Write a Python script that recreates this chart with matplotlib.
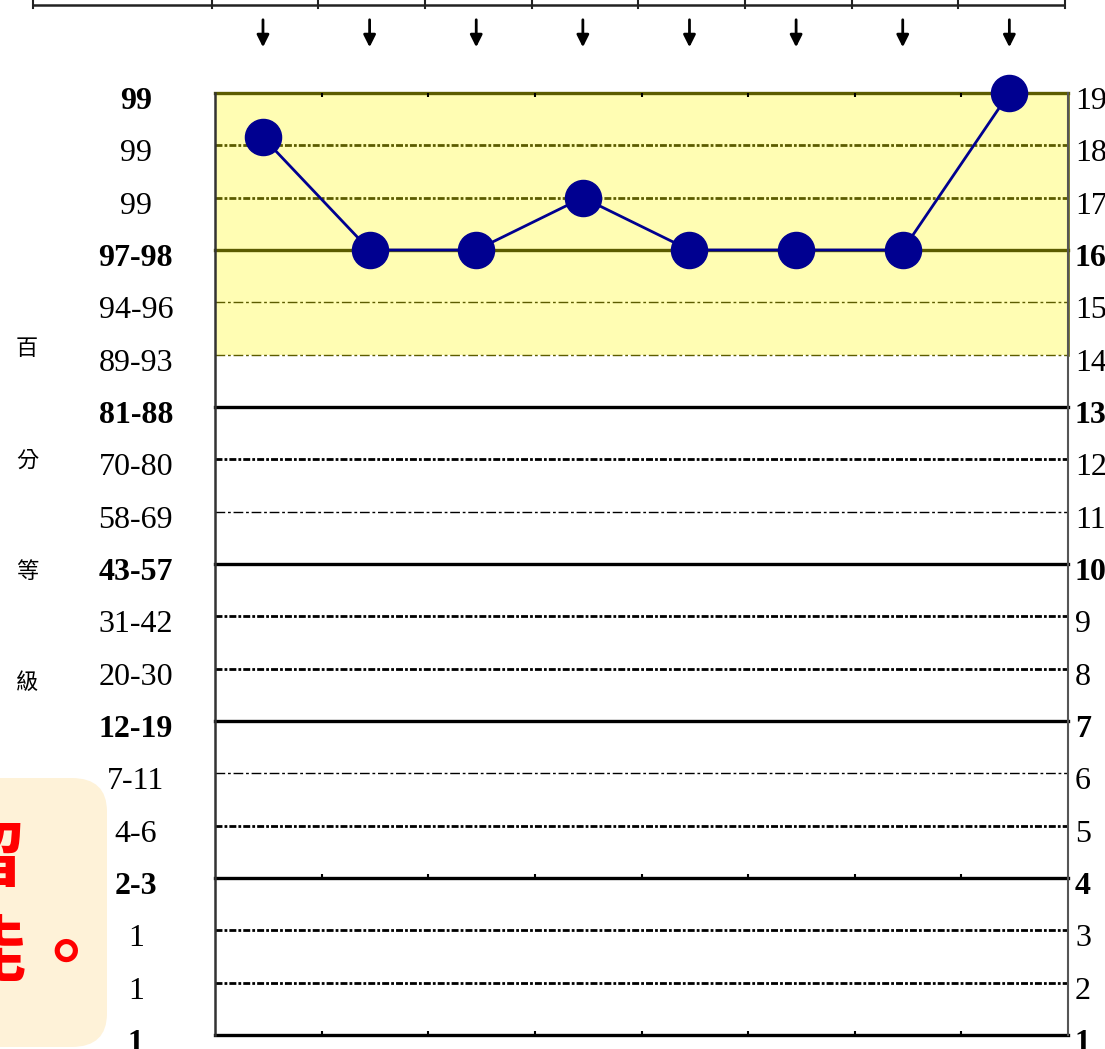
import numpy as np
import matplotlib
matplotlib.use('Agg')
import matplotlib.pyplot as plt
from matplotlib.patches import FancyBboxPatch
from matplotlib.lines import Line2D
from matplotlib.transforms import blended_transform_factory, ScaledTranslation

plt.rcParams['lines.scale_dashes'] = False

# 資料
levels = list(range(1, 20))
pr_labels = ['1', '1', '1', '2-3', '4-6', '7-11', '12-19', '20-30', '31-42', '43-57',
             '58-69', '70-80', '81-88', '89-93', '94-96', '97-98', '99', '99', '99']
scores = [18.15, 16, 16, 17, 16, 16, 16, 19]
bold_levels = [1, 4, 7, 10, 13, 16, 19]
thin_levels = [6, 11, 14, 15]
band_low, band_high = 14, 19

W, H = 1105, 1049
fig = plt.figure(figsize=(W / 100, H / 100), dpi=100)


def fx(x):
    return x / W


def fy(y):
    return 1 - y / H


ax = fig.add_axes([fx(215), fy(1035), fx(1068) - fx(215), fy(93) - fy(1035)])
ax.set_xlim(0, len(scores))
ax.set_ylim(1, 19)
ax.axhspan(band_low, band_high, color='#FFFDB3', zorder=0, lw=0)

# 格線
olive = '#5C5C00'
for lv in levels:
    col = olive if lv >= band_low else 'black'
    if lv in bold_levels:
        ax.axhline(lv, color=col, lw=2.4, zorder=1, clip_on=False)
    elif lv in thin_levels:
        ax.axhline(lv, color=col, lw=1.0, dashes=(7, 2, 2, 2), zorder=1)
    else:
        ax.axhline(lv, color=col, lw=2.0, dashes=(5, 1.5, 2, 1.5), zorder=1)

for side in ['top', 'bottom']:
    ax.spines[side].set_visible(False)
ax.spines['left'].set_color('#333333')
ax.spines['left'].set_linewidth(1.8)
ax.spines['right'].set_color('#555555')
ax.spines['right'].set_linewidth(1.5)
ax.plot([len(scores), len(scores)], [band_low, band_high], color=olive, lw=1.8,
        clip_on=False, zorder=2)

# 小刻度
ax.set_xticks(range(1, len(scores)))
ax.set_xticklabels([])
ax.tick_params(axis='x', direction='in', length=3, width=1.5, top=True, bottom=True,
               color='black')
ax.plot(range(1, len(scores)), [4] * (len(scores) - 1), ls='none', marker=2,
        ms=3, mew=1.5, color='black')

# 折線
x = np.arange(len(scores)) + 0.45
ax.plot(x, scores, color='#000090', lw=2, marker='o', ms=26, zorder=5, clip_on=False)

shift = ScaledTranslation(0, -5 / 100, fig.dpi_scale_trans)

# 左側百分等級
ax.set_yticks(levels)
ax.set_yticklabels(pr_labels, fontfamily='Liberation Serif', fontsize=23)
ax.tick_params(axis='y', length=0, pad=57)
for lv, lab in zip(levels, ax.get_yticklabels()):
    lab.set_ha('center')
    lab.set_transform(lab.get_transform() + shift)
    if lv in bold_levels:
        lab.set_fontweight('bold')

# 右側量尺
ax2 = ax.twinx()
ax2.set_ylim(1, 19)
ax2.set_yticks(levels)
ax2.set_yticklabels([str(v) for v in levels], fontfamily='Liberation Serif', fontsize=23)
ax2.tick_params(axis='y', length=0, pad=5)
for lv, lab in zip(levels, ax2.get_yticklabels()):
    lab.set_transform(lab.get_transform() + shift)
    if lv in bold_levels[:-1]:
        lab.set_fontweight('bold')
for sp in ax2.spines.values():
    sp.set_visible(False)

# 上方表格與箭頭
trans = blended_transform_factory(ax.transData, fig.transFigure)
fig.add_artist(Line2D([fx(33), fx(1063)], [fy(5), fy(5)], transform=fig.transFigure,
                      color='#222222', lw=1.8))
fig.add_artist(Line2D([fx(33), fx(33)], [fy(0), fy(8)], transform=fig.transFigure,
                      color='#222222', lw=1.5))
for e in np.arange(len(scores) + 1) - 0.03:
    fig.add_artist(Line2D([e, e], [fy(0), fy(8)], transform=trans, color='#222222', lw=1.5))
for i in range(len(scores)):
    xc = i + 0.5 - 0.05
    ax.annotate('', xy=(xc, fy(50)), xytext=(xc, fy(17)), xycoords=trans, textcoords=trans,
                arrowprops=dict(arrowstyle='-|>', color='black', lw=2.0, mutation_scale=18),
                annotation_clip=False)

# 百分等級 直書
for ch, yy in zip('百分等級', [348, 460, 571, 682]):
    fig.text(fx(27), fy(yy), ch, fontsize=16, family='Noto Sans CJK TC', ha='center', va='center')

# 左下註記框
box = FancyBboxPatch((fx(-60), fy(1047)), fx(167), fy(778) - fy(1047),
                     boxstyle='round,pad=0,rounding_size=0.032', transform=fig.transFigure,
                     facecolor='#FEF2D8', edgecolor='none')
fig.add_artist(box)
fig.text(fx(25), fy(860), '留', fontsize=52, family='Noto Sans CJK TC', fontweight='bold',
         color='#FF0000', ha='right', va='center')
fig.text(fx(26), fy(953), '能', fontsize=52, family='Noto Sans CJK TC', fontweight='bold',
         color='#FF0000', ha='right', va='center')
fig.text(fx(65), fy(957), '。', fontsize=52, family='Noto Sans CJK TC', fontweight='bold',
         color='#FF0000', ha='center', va='center')

fig.savefig('out.png', dpi=100)
